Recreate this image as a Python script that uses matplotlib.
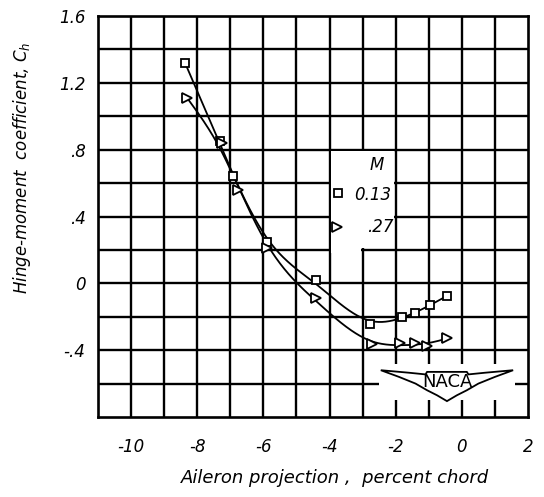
import numpy as np
import matplotlib.pyplot as plt
from matplotlib.patches import Rectangle, Polygon

# hinge-moment data
# M = 0.13 (squares)
x_m013 = [-8.37, -7.3, -6.92, -5.9, -4.4, -2.78, -1.81, -1.42, -0.96, -0.45]
y_m013 = [1.32, 0.85, 0.64, 0.25, 0.02, -0.245, -0.20, -0.175, -0.13, -0.075]
# M = 0.27 (triangles)
x_m027 = [-8.31, -7.25, -6.77, -5.9, -4.4, -2.72, -1.87, -1.42, -1.05, -0.45]
y_m027 = [1.11, 0.84, 0.56, 0.21, -0.09, -0.363, -0.36, -0.36, -0.375, -0.33]

xticks = [-10, -8, -6, -4, -2, 0, 2]
xtick_labels = ['-10', '-8', '-6', '-4', '-2', '0', '2']
yticks = [1.6, 1.2, 0.8, 0.4, 0, -0.4]
ytick_labels = ['1.6', '1.2', '.8', '.4', '0', '-.4']

plt.rcParams['font.family'] = ['DejaVu Sans']
plt.rcParams['font.style'] = 'italic'

fig = plt.figure(figsize=(5.44, 4.97), dpi=100)
ax = fig.add_axes([98/544, 1 - 417/497, 430/544, 401/497])
ax.set_xlim(-11, 2)
ax.set_ylim(-0.8, 1.6)

# heavy grid, one line per unit / per 0.2
for gx in np.arange(-10, 2):
    ax.axvline(gx, color='black', lw=1.7, zorder=1)
for gy in np.arange(-0.6, 1.6, 0.2):
    ax.axhline(gy, color='black', lw=1.7, zorder=1)

# blank areas for the key and the emblem
ax.add_patch(Rectangle((-3.95, 0.21), 1.9, 0.58, facecolor='white', edgecolor='none', zorder=1.5))
ax.add_patch(Rectangle((-3.95, 0.18), 0.9, 0.05, facecolor='white', edgecolor='none', zorder=1.5))
ax.add_patch(Rectangle((-2.5, -0.70), 4.1, 0.22, facecolor='white', edgecolor='none', zorder=1.5))

for s in ax.spines.values():
    s.set_linewidth(1.9)


# faired curve: smoothing on a fine grid with a curvature penalty,
# end points weighted so the curve starts and stops on them
def fair(x, y, lam=8e-2, n=300):
    x = np.asarray(x, dtype=float)
    y = np.asarray(y, dtype=float)
    w = np.ones_like(x)
    w[0] = w[-1] = 4.0
    g = np.linspace(x.min(), x.max(), n)
    h = g[1] - g[0]
    W = np.zeros((len(x), n))
    idx = np.clip(np.searchsorted(g, x) - 1, 0, n - 2)
    t = (x - g[idx]) / h
    W[np.arange(len(x)), idx] = 1 - t
    W[np.arange(len(x)), idx + 1] = t
    W = W * w[:, None]
    D = np.diff(np.eye(n), 2, axis=0)
    A = W.T @ W + lam / h**3 * (D.T @ D)
    return g, np.linalg.solve(A, W.T @ (w * y))


xs, ys = fair(x_m013, y_m013)
ax.plot(xs, ys, color='black', lw=1.3, zorder=2)
xs, ys = fair(x_m027, y_m027)
ax.plot(xs, ys, color='black', lw=1.3, zorder=2)

ax.plot(x_m013, y_m013, ls='none', marker='s', ms=6, mfc='white', mec='black', mew=1.3, zorder=3)
ax.plot(x_m027, y_m027, ls='none', marker='>', ms=7, mfc='white', mec='black', mew=1.3, zorder=3)

# key
ax.text(-2.57, 0.71, 'M', fontsize=12, ha='center', va='center', zorder=4)
ax.plot([-3.74], [0.54], ls='none', marker='s', ms=5.5, mfc='white', mec='black', mew=1.3, zorder=4)
ax.text(-2.69, 0.53, '0.13', fontsize=12, ha='center', va='center', zorder=4)
ax.plot([-3.78], [0.34], ls='none', marker='>', ms=7, mfc='white', mec='black', mew=1.3, zorder=4)
ax.text(-2.47, 0.34, '.27', fontsize=12, ha='center', va='center', zorder=4)

# NACA wings emblem
wing = [(-2.45, -0.52), (-1.6, -0.535), (-1.1, -0.545), (-1.05, -0.53), (0.15, -0.53),
        (0.2, -0.545), (0.7, -0.535), (1.55, -0.52), (1.0, -0.56), (0.5, -0.60),
        (0.15, -0.64), (-0.15, -0.67), (-0.45, -0.705), (-0.75, -0.67), (-1.05, -0.64),
        (-1.4, -0.60), (-1.9, -0.56)]
ax.add_patch(Polygon(wing, closed=True, facecolor='white', edgecolor='black', lw=1.3, zorder=3))
ax.text(-0.45, -0.59, 'NACA', fontsize=13, style='normal', ha='center', va='center', zorder=4)

ax.set_xticks(xticks)
ax.set_xticklabels(xtick_labels, fontsize=12)
ax.set_yticks(yticks)
ax.set_yticklabels(ytick_labels, fontsize=12)
ax.tick_params(axis='both', length=0)
ax.tick_params(axis='x', pad=15)
ax.tick_params(axis='y', pad=9)

fig.text(335/544, 1 - 478/497, 'Aileron projection ,  percent chord', fontsize=13,
         ha='center', va='center')
fig.text(22/544, 1 - 168/497, 'Hinge-moment  coefficient, $C_h$', fontsize=12,
         rotation=90, ha='center', va='center')

fig.savefig('out.png', dpi=100)
